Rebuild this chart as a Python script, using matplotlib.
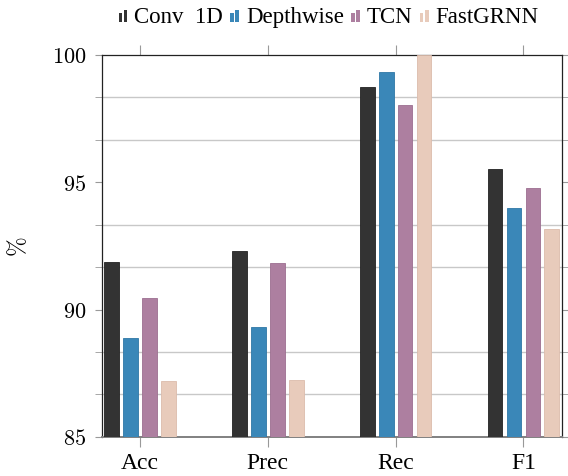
import matplotlib
matplotlib.use("Agg")
import matplotlib.pyplot as plt
import numpy as np
from matplotlib.patches import Rectangle
from matplotlib.legend_handler import HandlerBase
from matplotlib.ticker import MultipleLocator

plt.rcParams['font.family'] = ['Liberation Serif', 'DejaVu Serif']
plt.rcParams['mathtext.fontset'] = 'cm'

categories = ['Acc', 'Prec', 'Rec', 'F1']
models = ['Conv  1D', 'Depthwise', 'TCN', 'FastGRNN']
conv1d = [91.86, 92.30, 98.74, 95.52]
depthwise = [88.87, 89.32, 99.32, 94.00]
tcn = [90.44, 91.82, 98.04, 94.76]
fastgrnn = [87.20, 87.24, 100.0, 93.16]
series = [conv1d, depthwise, tcn, fastgrnn]
colors = ['#333333', '#3a87b8', '#ad7fa0', '#e8cbbb']
edges = ['#222222', '#2f77a6', '#9c6f90', '#dcbcac']


class TwoBars(HandlerBase):
    # pgfplots style ybar legend image
    def create_artists(self, legend, orig, xd, yd, w, h, fs, trans):
        c = orig.get_facecolor()
        r1 = Rectangle((xd + 0.05 * w, yd + 0.1 * h), 0.35 * w, 0.65 * h,
                       facecolor=c, edgecolor='none', transform=trans)
        r2 = Rectangle((xd + 0.55 * w, yd + 0.1 * h), 0.35 * w, 0.9 * h,
                       facecolor=c, edgecolor='none', transform=trans)
        return [r1, r2]


fig = plt.figure(figsize=(5.68, 4.77), dpi=100)
ax = fig.add_axes([0.179, 0.082, 0.810, 0.801])

x = np.arange(len(categories))
step = 0.148
width = 0.115
handles = []
for i, vals in enumerate(series):
    b = ax.bar(x + (i - 1.5) * step, vals, width, bottom=0,
               color=colors[i], edgecolor=edges[i], linewidth=0.6,
               label=models[i], zorder=3)
    handles.append(b.patches[0])

ax.set_xlim(-0.3, 3.3)
ax.set_ylim(85, 100)
ax.set_xticks(x)
ax.set_xticklabels(categories, fontsize=17)
ax.yaxis.set_major_locator(MultipleLocator(5))
ax.yaxis.set_minor_locator(MultipleLocator(5 / 3))
ax.set_yticks([85, 90, 95, 100])
ax.set_yticklabels(['$85$', '$90$', '$95$', '$100$'], fontsize=16)
ax.yaxis.grid(True, which='minor', color='#c8c8c8', linewidth=1.0, zorder=0)
ax.yaxis.grid(False, which='major')

ax.tick_params(axis='x', which='both', direction='out', length=7, color='#999999',
               top=True, bottom=True, pad=4)
ax.tick_params(axis='y', which='both', direction='out', length=5, color='#999999',
               left=True, right=True, pad=6)

for s in ['left', 'top', 'right']:
    ax.spines[s].set_color('#222222')
    ax.spines[s].set_linewidth(0.9)
ax.spines['bottom'].set_color('#808080')
ax.spines['bottom'].set_linewidth(1.4)

ax.set_ylabel(r'$\%$', fontsize=17, labelpad=16)

fig.legend(handles, models, loc='center', bbox_to_anchor=(0.578, 0.964),
           ncol=4, frameon=False, fontsize=16.5, handler_map={Rectangle: TwoBars()},
           handlelength=0.45, handleheight=0.5, handletextpad=0.25,
           columnspacing=0.3, borderpad=0)

fig.savefig('out.png', dpi=100)
